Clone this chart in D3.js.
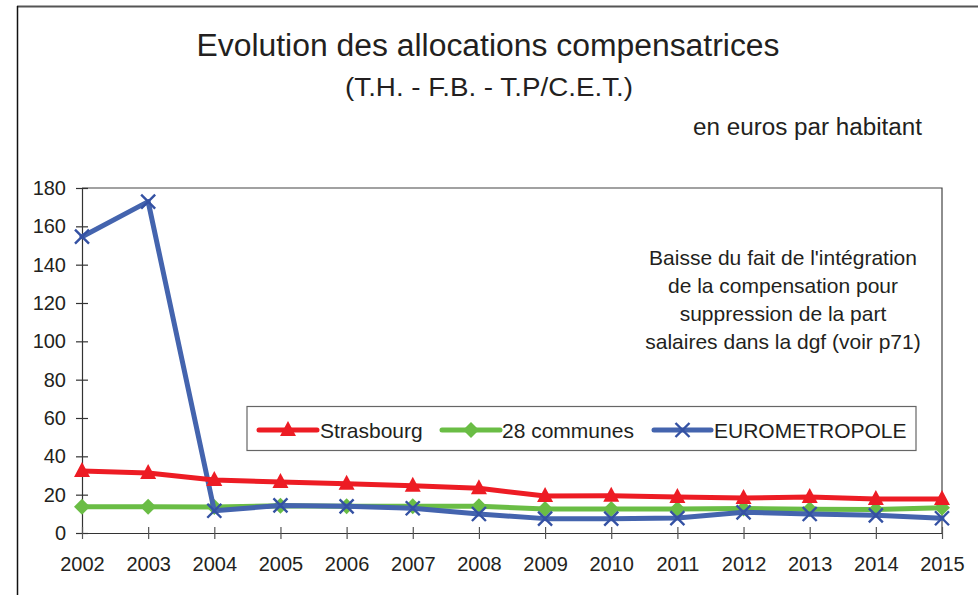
<!DOCTYPE html>
<html><head><meta charset="utf-8">
<script src="https://cdn.jsdelivr.net/npm/d3@7/dist/d3.min.js"></script>
<style>body{margin:0;background:#fff}svg{display:block;font-family:"Liberation Sans",Arial,sans-serif}</style>
</head><body><svg id="c" width="978" height="595"></svg>
<script>
const years = [2002,2003,2004,2005,2006,2007,2008,2009,2010,2011,2012,2013,2014,2015];
const strasbourg = [32.3,31.3,27.6,26.6,25.7,24.6,23.3,19.3,19.4,18.8,18.3,18.8,17.7,17.7];
const communes28 = [13.7,13.7,13.6,14.2,14.0,14.0,14.0,12.5,12.5,12.5,12.8,12.4,12.2,13.2];
const eurometropole = [154.6,172.9,11.6,14.4,13.9,12.9,9.9,7.5,7.5,7.8,10.8,9.9,9.2,7.7];
const yTicks = [0,20,40,60,80,100,120,140,160,180];
const seriesNames = ["Strasbourg","28 communes","EUROMETROPOLE"];
const annotationLines = ["Baisse du fait de l'intégration","de la compensation pour","suppression de la part","salaires dans la dgf (voir p71)"];

const colors = ["#ED1C24","#6ABD45","#4464AE"];
const markerColors = ["#ED1C24","#6ABD45","#3451A3"];
const series = [strasbourg, communes28, eurometropole];

const svg = d3.select("#c");
// outer frame
svg.append("line").attr("x1",17).attr("x2",978).attr("y1",6.5).attr("y2",6.5).attr("stroke","#555").attr("stroke-width",2);
svg.append("line").attr("x1",17.5).attr("x2",17.5).attr("y1",6).attr("y2",595).attr("stroke","#111").attr("stroke-width",1.5);

const x = d3.scalePoint().domain(years).range([82,942]);
const y = d3.scaleLinear().domain([0,180]).range([533,188]);

// plot border (top, right)
svg.append("path").attr("d",`M${x(2002)},${y(180)}H${x(2015)}V${y(0)}`).attr("fill","none").attr("stroke","#444").attr("stroke-width",1.2);

// titles
svg.append("text").attr("x",488).attr("y",56).attr("text-anchor","middle").attr("font-size",31).attr("fill","#231f20")
  .attr("textLength",583).attr("lengthAdjust","spacingAndGlyphs").text("Evolution des allocations compensatrices");
svg.append("text").attr("x",489).attr("y",96).attr("text-anchor","middle").attr("font-size",25).attr("fill","#231f20")
  .attr("textLength",288).attr("lengthAdjust","spacingAndGlyphs").text("(T.H. - F.B. - T.P/C.E.T.)");
svg.append("text").attr("x",922).attr("y",135).attr("text-anchor","end").attr("font-size",23).attr("fill","#231f20")
  .attr("textLength",229).attr("lengthAdjust","spacingAndGlyphs").text("en euros par habitant");

// y axis
const yAxis = d3.axisLeft(y).tickValues(yTicks).tickSize(0).tickPadding(16);
const gy = svg.append("g").attr("transform",`translate(${x(2002)},0)`).call(yAxis);
gy.select(".domain").attr("stroke","#333").attr("stroke-width",1.2);
gy.selectAll(".tick text").attr("font-size",20).attr("fill","#231f20").attr("font-family","Liberation Sans, Arial, sans-serif");
gy.selectAll(".tick").append("line").attr("x1",-6).attr("x2",6).attr("stroke","#333").attr("stroke-width",1.2);

// x axis
const xAxis = d3.axisBottom(x).tickSize(0).tickPadding(24);
const gx = svg.append("g").attr("transform",`translate(0,${y(0)})`).call(xAxis);
gx.select(".domain").attr("stroke","#333").attr("stroke-width",1.2);
gx.selectAll(".tick text").attr("font-size",20).attr("fill","#231f20").attr("font-family","Liberation Sans, Arial, sans-serif");
gx.selectAll(".tick").append("line").attr("y1",-6).attr("y2",6).attr("stroke","#555").attr("stroke-width",1.2);

// annotation
const ann = svg.append("text").attr("text-anchor","middle").attr("font-size",21).attr("fill","#231f20");
annotationLines.forEach((t,i)=>ann.append("tspan").attr("x",783).attr("y",265+i*28).text(t));

// markers
function drawMarker(g, k, cx, cy){
  if(k===0){
    g.append("path").attr("d",`M${cx},${cy-9}L${cx+8},${cy+6}L${cx-8},${cy+6}Z`).attr("fill",markerColors[0]);
  } else if(k===1){
    g.append("path").attr("d",`M${cx},${cy-8}L${cx+8},${cy}L${cx},${cy+8}L${cx-8},${cy}Z`).attr("fill",markerColors[1]);
  } else {
    g.append("path").attr("d",`M${cx-7},${cy-7}L${cx+7},${cy+7}M${cx+7},${cy-7}L${cx-7},${cy+7}`).attr("stroke",markerColors[2]).attr("stroke-width",2.4).attr("fill","none");
  }
}

const line = d3.line().x((d,i)=>x(years[i])).y(d=>y(d));
[1,2,0].forEach(k=>{
  const g = svg.append("g");
  g.append("path").datum(series[k]).attr("d",line).attr("fill","none").attr("stroke",colors[k]).attr("stroke-width",5).attr("stroke-linejoin","round").attr("stroke-linecap","round");
  series[k].forEach((v,i)=>drawMarker(g,k,x(years[i]),y(v)));
});

// legend
svg.append("rect").attr("x",247).attr("y",406.5).attr("width",669).attr("height",44).attr("fill","#fff").attr("stroke","#666").attr("stroke-width",1.2);
const legX = [[259,317,320],[442,500,502],[654,711,714]];
seriesNames.forEach((n,k)=>{
  const g = svg.append("g");
  const cy = 430;
  g.append("line").attr("x1",legX[k][0]).attr("x2",legX[k][1]).attr("y1",cy).attr("y2",cy).attr("stroke",colors[k]).attr("stroke-width",5).attr("stroke-linecap","round");
  drawMarker(g,k,(legX[k][0]+legX[k][1])/2,cy);
  g.append("text").attr("x",legX[k][2]).attr("y",cy+7.5).attr("font-size",21).attr("fill","#231f20").text(n);
});
</script></body></html>
